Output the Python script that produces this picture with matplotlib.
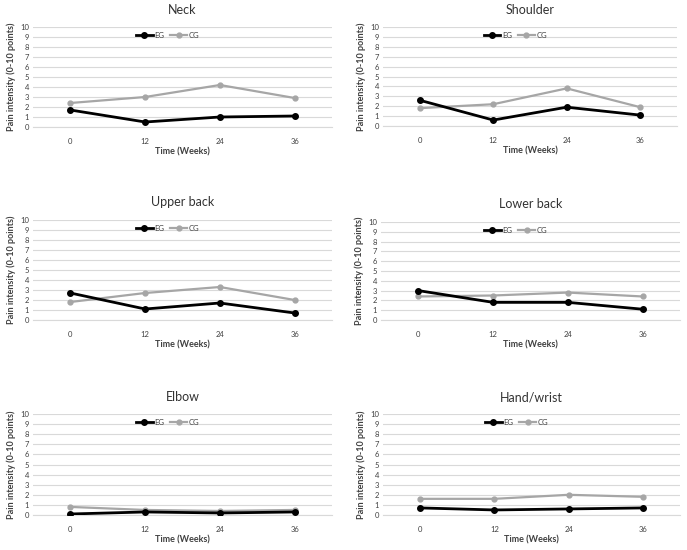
import matplotlib
matplotlib.use('Agg')
import matplotlib.pyplot as plt

plt.rcParams['font.family'] = ['Lato', 'DejaVu Sans']

weeks = ['0', '12', '24', '36']
regions = ['Neck', 'Shoulder', 'Upper back', 'Lower back', 'Elbow', 'Hand/wrist']

eg_neck = [1.7, 0.5, 1.0, 1.1]
cg_neck = [2.4, 3.0, 4.2, 2.9]
eg_shoulder = [2.6, 0.6, 1.9, 1.1]
cg_shoulder = [1.8, 2.2, 3.8, 1.9]
eg_upper_back = [2.7, 1.1, 1.7, 0.7]
cg_upper_back = [1.8, 2.7, 3.3, 2.0]
eg_lower_back = [3.0, 1.8, 1.8, 1.1]
cg_lower_back = [2.4, 2.5, 2.8, 2.4]
eg_elbow = [0.1, 0.3, 0.2, 0.3]
cg_elbow = [0.8, 0.5, 0.4, 0.5]
eg_hand = [0.7, 0.5, 0.6, 0.7]
cg_hand = [1.6, 1.6, 2.0, 1.8]

eg_all = [eg_neck, eg_shoulder, eg_upper_back, eg_lower_back, eg_elbow, eg_hand]
cg_all = [cg_neck, cg_shoulder, cg_upper_back, cg_lower_back, cg_elbow, cg_hand]

W, H = 687, 550
fig = plt.figure(figsize=(W / 100, H / 100), dpi=100)

# plot-area boxes in pixels: left, top(10), right, bottom(0)
boxes = [
    (33, 27, 332, 127),
    (383, 27, 677, 126),
    (33, 220, 332, 320),
    (381, 222, 680, 320),
    (33, 414, 332, 515),
    (383, 414, 680, 515),
]
title_y = [10, 10, 202, 204, 397, 398]

for i, (l, t, r, b) in enumerate(boxes):
    ax = fig.add_axes([l / W, 1 - b / H, (r - l) / W, (b - t) / H])
    x = range(len(weeks))
    ax.plot(x, cg_all[i], color='#a6a6a6', lw=1.6, marker='o', ms=3.5,
            label='CG', zorder=3)
    ax.plot(x, eg_all[i], color='black', lw=2.0, marker='o', ms=4,
            label='EG', zorder=4)
    ax.set_xlim(-0.5, 3.5)
    ax.set_ylim(0, 10)
    ax.set_yticks(range(11))
    ax.set_xticks(list(x))
    ax.set_xticklabels(weeks)
    ax.grid(axis='y', color='#d9d9d9', lw=0.8)
    ax.set_axisbelow(True)
    for s in ['top', 'right', 'left']:
        ax.spines[s].set_visible(False)
    ax.spines['bottom'].set_color('#d9d9d9')
    ax.tick_params(length=0, labelsize=5.5, colors='#404040', pad=3)
    ax.tick_params(axis='x', pad=8)
    ax.set_xlabel('Time (Weeks)', fontsize=6.5, fontweight='bold',
                  color='#404040', labelpad=2)
    ax.set_ylabel('Pain intensity (0-10 points)', fontsize=6.5,
                  fontweight='bold', color='#404040', labelpad=3)
    h, lab = ax.get_legend_handles_labels()
    ax.legend(h[::-1], lab[::-1], loc='upper center', bbox_to_anchor=(0.45, 1.02),
              ncol=2, frameon=False, fontsize=5.5, handlelength=2.2,
              columnspacing=0.8, handletextpad=0.2, labelcolor='#404040')
    fig.text((l + r) / 2 / W, 1 - title_y[i] / H, regions[i], ha='center',
             va='center', fontsize=9, color='#333333')

fig.savefig('out.png', dpi=100)
